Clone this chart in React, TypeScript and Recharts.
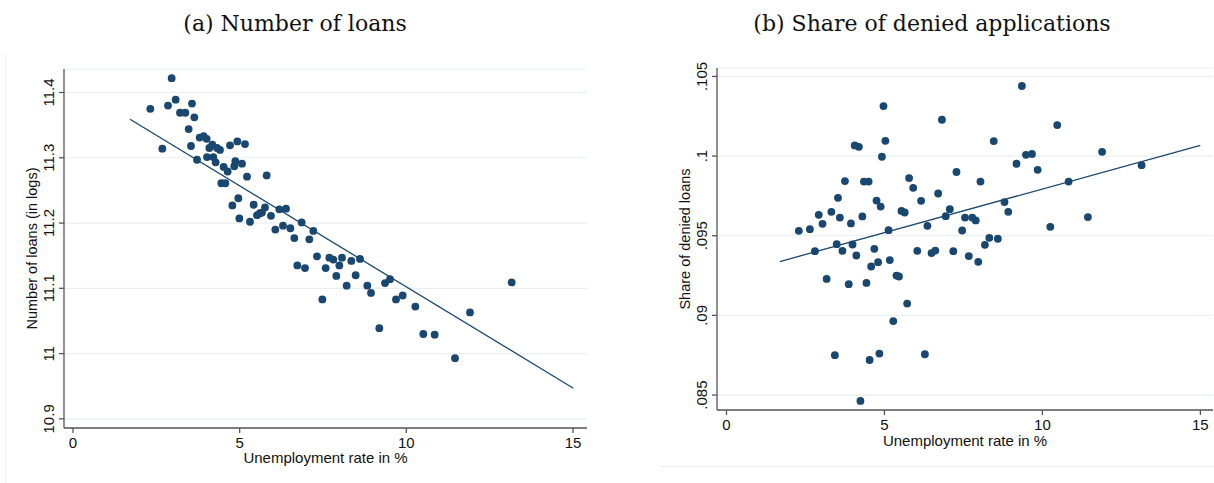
import React from 'react';
import { ScatterChart, Scatter, XAxis, YAxis, CartesianGrid } from 'recharts';

// (a) number of loans vs unemployment
const loansUnemp = [
  2.32, 2.68, 2.85, 2.96, 3.08, 3.21, 3.37, 3.47, 3.54, 3.57, 3.64, 3.72, 3.8, 3.92, 4.01, 4.02, 4.09,
  4.18, 4.21, 4.28, 4.32, 4.41, 4.45, 4.52, 4.57, 4.64, 4.71, 4.78, 4.84, 4.87, 4.93, 4.96, 4.99, 5.07,
  5.16, 5.22, 5.31, 5.42, 5.52, 5.61, 5.67, 5.76, 5.81, 5.94, 6.07, 6.19, 6.3, 6.39, 6.52, 6.64, 6.73,
  6.86, 6.96, 7.09, 7.21, 7.32, 7.48, 7.58, 7.69, 7.81, 7.9, 7.99, 8.07, 8.21, 8.35, 8.48, 8.61, 8.83,
  8.94, 9.19, 9.36, 9.51, 9.69, 9.89, 10.27, 10.51, 10.85, 11.46, 11.91, 13.16,
];
const loansLog = [
  11.375, 11.314, 11.38, 11.422, 11.389, 11.369, 11.369, 11.344, 11.318, 11.383, 11.362, 11.297, 11.331,
  11.333, 11.329, 11.301, 11.315, 11.32, 11.301, 11.293, 11.315, 11.312, 11.261, 11.286, 11.261, 11.279,
  11.319, 11.227, 11.287, 11.295, 11.325, 11.238, 11.207, 11.291, 11.321, 11.271, 11.202, 11.228, 11.212,
  11.215, 11.216, 11.224, 11.273, 11.211, 11.19, 11.221, 11.196, 11.222, 11.192, 11.177, 11.135, 11.201,
  11.131, 11.175, 11.188, 11.149, 11.083, 11.131, 11.147, 11.144, 11.119, 11.135, 11.147, 11.104, 11.142,
  11.12, 11.145, 11.104, 11.093, 11.039, 11.108, 11.114, 11.083, 11.089, 11.072, 11.03, 11.029, 10.993,
  11.063, 11.109,
];
const loansFitX = [1.71, 15.01];
const loansFitY = [11.359, 10.947];
const loansTicksY = [10.9, 11, 11.1, 11.2, 11.3, 11.4];

// (b) share of denied applications vs unemployment
const deniedUnemp = [
  2.29, 2.64, 2.8, 2.92, 3.04, 3.17, 3.32, 3.43, 3.49, 3.53, 3.59, 3.67, 3.75, 3.87, 3.94, 3.99, 4.06,
  4.11, 4.19, 4.24, 4.3, 4.35, 4.43, 4.5, 4.53, 4.58, 4.68, 4.75, 4.8, 4.84, 4.88, 4.92, 4.97, 5.03, 5.13,
  5.17, 5.28, 5.38, 5.46, 5.54, 5.64, 5.72, 5.78, 5.91, 6.04, 6.16, 6.28, 6.36, 6.49, 6.61, 6.7, 6.82,
  6.94, 7.07, 7.18, 7.28, 7.46, 7.55, 7.67, 7.78, 7.89, 7.97, 8.04, 8.18, 8.32, 8.46, 8.59, 8.8, 8.92,
  9.18, 9.35, 9.48, 9.67, 9.85, 10.25, 10.47, 10.83, 11.44, 11.89, 13.14,
];
const deniedShare = [
  0.09531, 0.09541, 0.09403, 0.09631, 0.09575, 0.09229, 0.0965, 0.0875, 0.09447, 0.09738, 0.09614,
  0.09405, 0.09843, 0.09196, 0.09577, 0.09445, 0.10067, 0.09376, 0.10058, 0.08463, 0.09621, 0.0984,
  0.09204, 0.0984, 0.0872, 0.09307, 0.09418, 0.09721, 0.09334, 0.0876, 0.09683, 0.09996, 0.10314,
  0.10096, 0.09535, 0.09347, 0.08964, 0.0925, 0.09244, 0.09656, 0.09646, 0.09074, 0.09862, 0.09801,
  0.09405, 0.09719, 0.08756, 0.09562, 0.09391, 0.09407, 0.09765, 0.10228, 0.09623, 0.09667, 0.09403,
  0.099, 0.09533, 0.09614, 0.09372, 0.09614, 0.09596, 0.09336, 0.0984, 0.09443, 0.09487, 0.10094,
  0.09481, 0.09711, 0.0965, 0.09952, 0.1044, 0.10008, 0.10013, 0.09914, 0.09556, 0.10195, 0.0984,
  0.09617, 0.10027, 0.09943,
];
const deniedFitX = [1.69, 15.0];
const deniedFitY = [0.09338, 0.10067];
const deniedTicksY = [0.085, 0.09, 0.095, 0.1, 0.105];

const unempTicks = [0, 5, 10, 15];

const NAVY = '#1a476f';
const AXIS = '#555555';
const GRID = '#e7eff2';
const SANS = '"Liberation Sans", Arial, sans-serif';

const zip = (xs: number[], ys: number[]) => xs.map((x, i) => ({ x, y: ys[i] }));

const Dot = (p: any) => <circle cx={p.cx} cy={p.cy} r={3.9} fill={NAVY} />;
const NoDot = () => <g />;

const RotTick = (fmt: (v: number) => string) => (p: any) => {
  const { x, y, payload } = p;
  return (
    <text x={x} y={y} transform={`rotate(-90, ${x}, ${y})`} textAnchor="middle" fontSize={15} fontFamily={SANS} fill="#111">
      {fmt(payload.value)}
    </text>
  );
};

const fmtLoans = (v: number) => String(Math.round(v * 10) / 10);
const fmtShare = (v: number) => String(Math.round(v * 1000) / 1000).replace(/^0/, '');

interface PanelProps {
  width: number;
  margin: { top: number; right: number; bottom: number; left: number };
  xDomain: [number, number];
  yDomain: [number, number];
  yTicks: number[];
  fmt: (v: number) => string;
  yLabel: string;
  xLabelOffset: number;
  points: { x: number; y: number }[];
  fit: { x: number; y: number }[];
}

function Panel({ width, margin, xDomain, yDomain, yTicks, fmt, yLabel, xLabelOffset, points, fit }: PanelProps) {
  return (
    <ScatterChart width={width} height={483} margin={margin}>
      <CartesianGrid vertical={false} stroke={GRID} strokeWidth={1.2} />
      <XAxis
        type="number"
        dataKey="x"
        domain={xDomain}
        ticks={unempTicks}
        allowDataOverflow
        height={50}
        tickSize={5}
        tickMargin={4}
        stroke={AXIS}
        strokeWidth={1.3}
        tick={{ fontSize: 15, fontFamily: SANS, fill: '#111' }}
        label={{ value: 'Unemployment rate in %', position: 'insideBottom', offset: xLabelOffset, fontSize: 15, fontFamily: SANS, fill: '#111' }}
      />
      <YAxis
        type="number"
        dataKey="y"
        domain={yDomain}
        ticks={yTicks}
        allowDataOverflow
        width={50}
        tickSize={5}
        tickMargin={5}
        stroke={AXIS}
        strokeWidth={1.3}
        tick={RotTick(fmt)}
        label={{ value: yLabel, angle: -90, position: 'insideLeft', offset: 18, fontSize: 14.5, fontFamily: SANS, fill: '#111', style: { textAnchor: 'middle' } }}
      />
      <Scatter data={points} shape={Dot} isAnimationActive={false} />
      <Scatter data={fit} shape={NoDot} line={{ stroke: NAVY, strokeWidth: 1.3 }} isAnimationActive={false} />
    </ScatterChart>
  );
}

export default function App() {
  const titleStyle: React.CSSProperties = {
    position: 'absolute',
    top: 11,
    fontFamily: '"DejaVu Serif", serif',
    fontSize: 22,
    color: '#111',
    textAlign: 'center',
    whiteSpace: 'nowrap',
  };
  return (
    <div style={{ position: 'absolute', left: 0, top: 0, width: 1214, height: 483, background: '#fff', overflow: 'hidden' }}>
      <div style={{ position: 'absolute', left: 5, top: 53, width: 0, height: 430, borderLeft: '1px solid #f0f0f0' }} />
      <div style={{ position: 'absolute', left: 660, top: 466, width: 554, height: 0, borderTop: '1px solid #f0f0f0' }} />
      <div style={{ ...titleStyle, left: 95, width: 400 }}>(a) Number of loans</div>
      <div style={{ ...titleStyle, left: 732, width: 400 }}>(b) Share of denied applications</div>
      <div style={{ position: 'absolute', left: 0, top: 0 }}>
        <Panel
          width={600}
          margin={{ top: 69, right: 13, bottom: 5, left: 14 }}
          xDomain={[-0.27, 15.42]}
          yDomain={[10.886, 11.436]}
          yTicks={loansTicksY}
          fmt={fmtLoans}
          yLabel="Number of loans (in logs)"
          xLabelOffset={15}
          points={zip(loansUnemp, loansLog)}
          fit={zip(loansFitX, loansFitY)}
        />
      </div>
      <div style={{ position: 'absolute', left: 607, top: 0 }}>
        <Panel
          width={607}
          margin={{ top: 68, right: 1, bottom: 23, left: 60 }}
          xDomain={[-0.3, 15.4]}
          yDomain={[0.08406, 0.10553]}
          yTicks={deniedTicksY}
          fmt={fmtShare}
          yLabel="Share of denied loans"
          xLabelOffset={14}
          points={zip(deniedUnemp, deniedShare)}
          fit={zip(deniedFitX, deniedFitY)}
        />
      </div>
    </div>
  );
}
